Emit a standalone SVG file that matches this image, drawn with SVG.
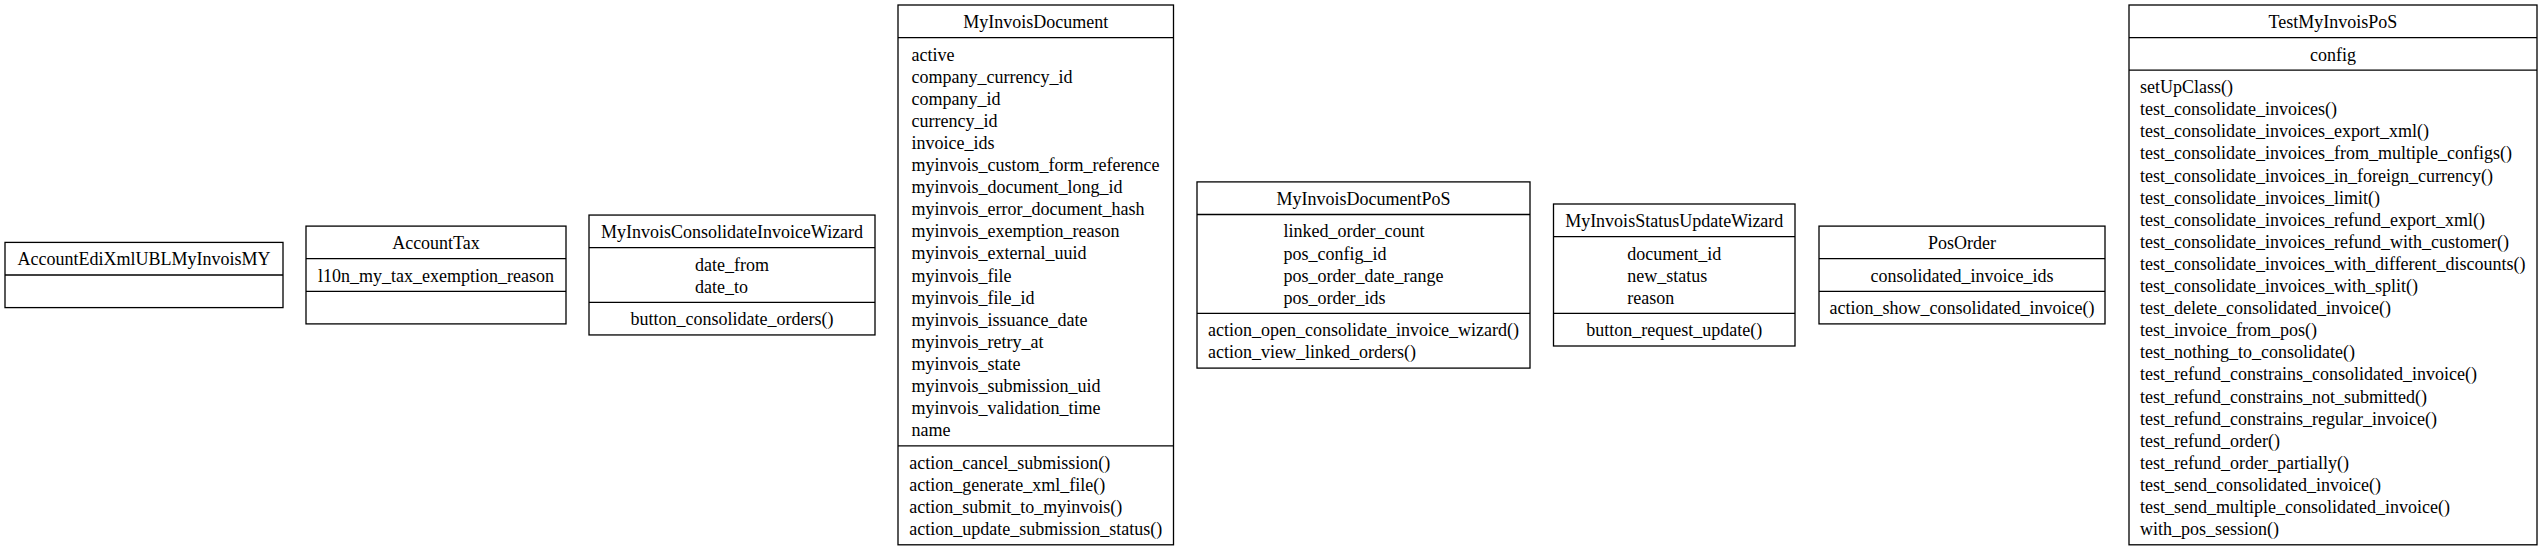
<svg xmlns="http://www.w3.org/2000/svg" width="2542" height="550" viewBox="0 0 2542 550">
<style>
.box{fill:#ffffff;stroke:#000000;stroke-width:1.3}
.sep{stroke:#000000;stroke-width:1.3}
text{font-family:"Liberation Serif","Times New Roman",serif;font-size:18px;fill:#000000}
.c{text-anchor:middle}
</style>
<rect x="0" y="0" width="2542" height="550" fill="#ffffff"/>
<g id="connectors"/>
<g id="AccountEdiXmlUBLMyInvoisMY">
<rect class="box" x="5" y="242.4" width="278" height="65.2"/>
<line class="sep" x1="5" y1="275" x2="283" y2="275"/>
<text class="c" x="144" y="265.3">AccountEdiXmlUBLMyInvoisMY</text>
</g>
<g id="AccountTax">
<rect class="box" x="306" y="226.1" width="260" height="97.8"/>
<line class="sep" x1="306" y1="258.7" x2="566" y2="258.7"/>
<line class="sep" x1="306" y1="291.3" x2="566" y2="291.3"/>
<text class="c" x="436" y="249">AccountTax</text>
<text class="c" x="436" y="281.6">l10n_my_tax_exemption_reason</text>
</g>
<g id="MyInvoisConsolidateInvoiceWizard">
<rect class="box" x="589" y="215.05" width="286" height="119.9"/>
<line class="sep" x1="589" y1="247.65" x2="875" y2="247.65"/>
<line class="sep" x1="589" y1="302.35" x2="875" y2="302.35"/>
<text class="c" x="732" y="237.95">MyInvoisConsolidateInvoiceWizard</text>
<text x="695" y="270.55">date_from</text>
<text x="695" y="292.65">date_to</text>
<text class="c" x="732" y="325.25">button_consolidate_orders()</text>
</g>
<g id="MyInvoisDocument">
<rect class="box" x="898" y="5" width="275.5" height="539.8"/>
<line class="sep" x1="898" y1="37.6" x2="1173.5" y2="37.6"/>
<line class="sep" x1="898" y1="445.9" x2="1173.5" y2="445.9"/>
<text class="c" x="1035.75" y="27.9">MyInvoisDocument</text>
<text x="911.5" y="60.5">active</text>
<text x="911.5" y="82.6">company_currency_id</text>
<text x="911.5" y="104.7">company_id</text>
<text x="911.5" y="126.8">currency_id</text>
<text x="911.5" y="148.9">invoice_ids</text>
<text x="911.5" y="171">myinvois_custom_form_reference</text>
<text x="911.5" y="193.1">myinvois_document_long_id</text>
<text x="911.5" y="215.2">myinvois_error_document_hash</text>
<text x="911.5" y="237.3">myinvois_exemption_reason</text>
<text x="911.5" y="259.4">myinvois_external_uuid</text>
<text x="911.5" y="281.5">myinvois_file</text>
<text x="911.5" y="303.6">myinvois_file_id</text>
<text x="911.5" y="325.7">myinvois_issuance_date</text>
<text x="911.5" y="347.8">myinvois_retry_at</text>
<text x="911.5" y="369.9">myinvois_state</text>
<text x="911.5" y="392">myinvois_submission_uid</text>
<text x="911.5" y="414.1">myinvois_validation_time</text>
<text x="911.5" y="436.2">name</text>
<text x="909.25" y="468.8">action_cancel_submission()</text>
<text x="909.25" y="490.9">action_generate_xml_file()</text>
<text x="909.25" y="513">action_submit_to_myinvois()</text>
<text x="909.25" y="535.1">action_update_submission_status()</text>
</g>
<g id="MyInvoisDocumentPoS">
<rect class="box" x="1197" y="181.9" width="333" height="186.2"/>
<line class="sep" x1="1197" y1="214.5" x2="1530" y2="214.5"/>
<line class="sep" x1="1197" y1="313.4" x2="1530" y2="313.4"/>
<text class="c" x="1363.5" y="204.8">MyInvoisDocumentPoS</text>
<text x="1283.5" y="237.4">linked_order_count</text>
<text x="1283.5" y="259.5">pos_config_id</text>
<text x="1283.5" y="281.6">pos_order_date_range</text>
<text x="1283.5" y="303.7">pos_order_ids</text>
<text x="1208" y="336.3">action_open_consolidate_invoice_wizard()</text>
<text x="1208" y="358.4">action_view_linked_orders()</text>
</g>
<g id="MyInvoisStatusUpdateWizard">
<rect class="box" x="1553.5" y="204" width="241.5" height="142"/>
<line class="sep" x1="1553.5" y1="236.6" x2="1795" y2="236.6"/>
<line class="sep" x1="1553.5" y1="313.4" x2="1795" y2="313.4"/>
<text class="c" x="1674.25" y="226.9">MyInvoisStatusUpdateWizard</text>
<text x="1627.25" y="259.5">document_id</text>
<text x="1627.25" y="281.6">new_status</text>
<text x="1627.25" y="303.7">reason</text>
<text class="c" x="1674.25" y="336.3">button_request_update()</text>
</g>
<g id="PosOrder">
<rect class="box" x="1819" y="226.1" width="286" height="97.8"/>
<line class="sep" x1="1819" y1="258.7" x2="2105" y2="258.7"/>
<line class="sep" x1="1819" y1="291.3" x2="2105" y2="291.3"/>
<text class="c" x="1962" y="249">PosOrder</text>
<text class="c" x="1962" y="281.6">consolidated_invoice_ids</text>
<text class="c" x="1962" y="314.2">action_show_consolidated_invoice()</text>
</g>
<g id="TestMyInvoisPoS">
<rect class="box" x="2129" y="5" width="408" height="539.8"/>
<line class="sep" x1="2129" y1="37.6" x2="2537" y2="37.6"/>
<line class="sep" x1="2129" y1="70.2" x2="2537" y2="70.2"/>
<text class="c" x="2333" y="27.9">TestMyInvoisPoS</text>
<text class="c" x="2333" y="60.5">config</text>
<text x="2140" y="93.1">setUpClass()</text>
<text x="2140" y="115.2">test_consolidate_invoices()</text>
<text x="2140" y="137.3">test_consolidate_invoices_export_xml()</text>
<text x="2140" y="159.4">test_consolidate_invoices_from_multiple_configs()</text>
<text x="2140" y="181.5">test_consolidate_invoices_in_foreign_currency()</text>
<text x="2140" y="203.6">test_consolidate_invoices_limit()</text>
<text x="2140" y="225.7">test_consolidate_invoices_refund_export_xml()</text>
<text x="2140" y="247.8">test_consolidate_invoices_refund_with_customer()</text>
<text x="2140" y="269.9">test_consolidate_invoices_with_different_discounts()</text>
<text x="2140" y="292">test_consolidate_invoices_with_split()</text>
<text x="2140" y="314.1">test_delete_consolidated_invoice()</text>
<text x="2140" y="336.2">test_invoice_from_pos()</text>
<text x="2140" y="358.3">test_nothing_to_consolidate()</text>
<text x="2140" y="380.4">test_refund_constrains_consolidated_invoice()</text>
<text x="2140" y="402.5">test_refund_constrains_not_submitted()</text>
<text x="2140" y="424.6">test_refund_constrains_regular_invoice()</text>
<text x="2140" y="446.7">test_refund_order()</text>
<text x="2140" y="468.8">test_refund_order_partially()</text>
<text x="2140" y="490.9">test_send_consolidated_invoice()</text>
<text x="2140" y="513">test_send_multiple_consolidated_invoice()</text>
<text x="2140" y="535.1">with_pos_session()</text>
</g>
</svg>
